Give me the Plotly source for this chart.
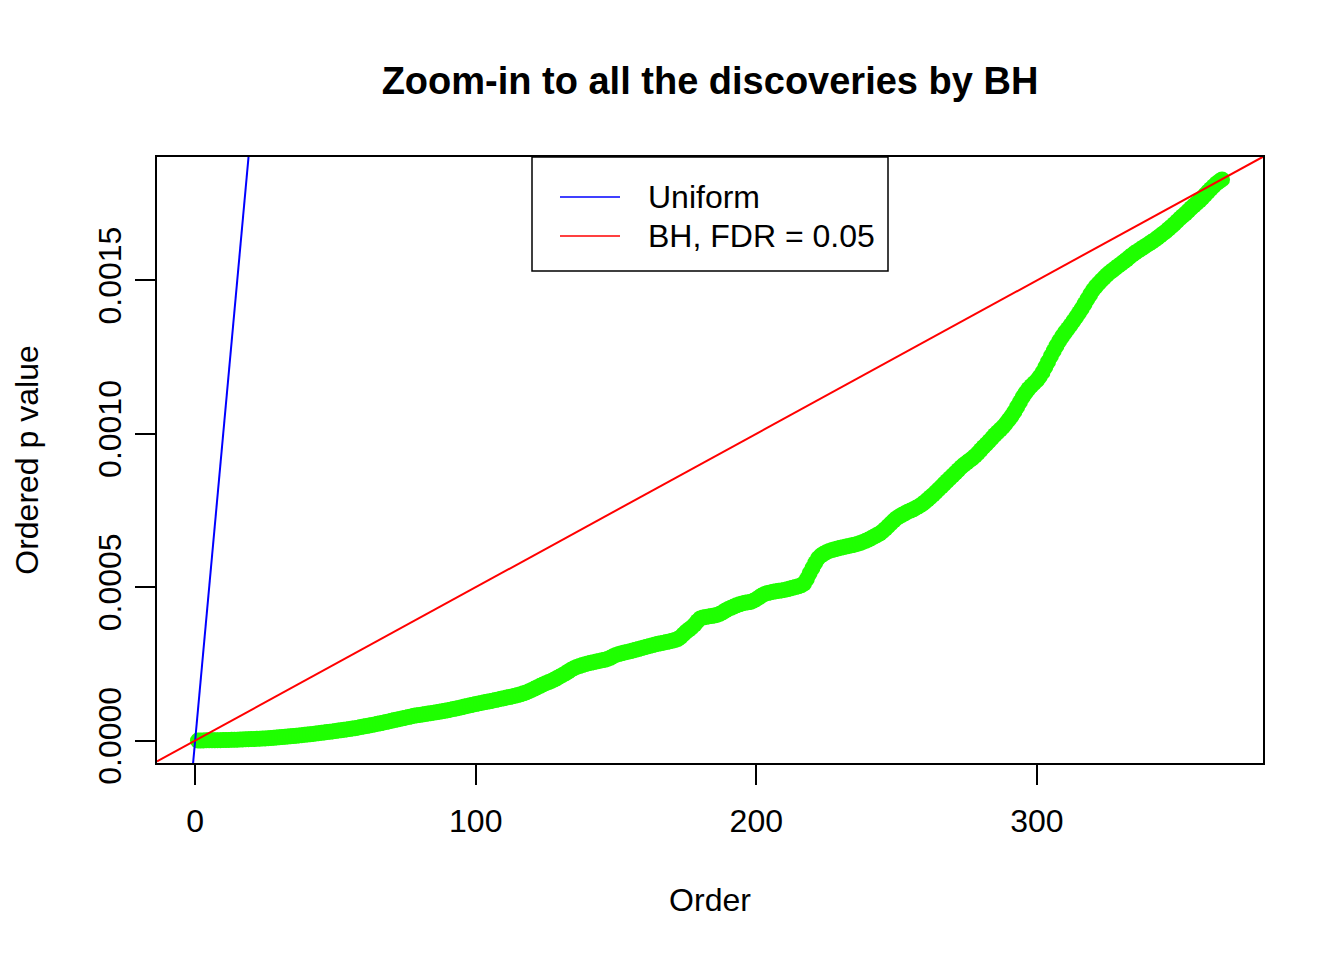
import plotly.graph_objects as go

# ---- data ----
n_tests = 10000          # total number of hypotheses
fdr = 0.05               # BH level
title_text = "Zoom-in to all the discoveries by BH"
x_title = "Order"
y_title = "Ordered p value"
legend_labels = ["Uniform", "BH, FDR = 0.05"]
x_ticks = [0, 100, 200, 300]
y_ticks = [0.0, 0.0005, 0.0010, 0.0015]

# ordered p values of the 366 discoveries, in units of 1e-5
p_sorted_e5 = [
    0.00, 0.02, 0.04, 0.06, 0.08, 0.10, 0.11, 0.12, 0.14, 0.16,
    0.18, 0.21, 0.24, 0.27, 0.30, 0.33, 0.37, 0.40, 0.44, 0.48,
    0.52, 0.56, 0.61, 0.66, 0.71, 0.77, 0.84, 0.92, 0.99, 1.06,
    1.13, 1.20, 1.29, 1.38, 1.47, 1.56, 1.66, 1.76, 1.86, 1.96,
    2.06, 2.17, 2.28, 2.40, 2.52, 2.63, 2.75, 2.87, 2.99, 3.12,
    3.24, 3.37, 3.50, 3.63, 3.77, 3.90, 4.05, 4.21, 4.38, 4.55,
    4.73, 4.91, 5.09, 5.27, 5.45, 5.65, 5.84, 6.05, 6.25, 6.46,
    6.66, 6.86, 7.06, 7.26, 7.46, 7.66, 7.87, 8.08, 8.22, 8.36,
    8.50, 8.64, 8.78, 8.93, 9.08, 9.23, 9.38, 9.54, 9.70, 9.88,
    10.06, 10.25, 10.45, 10.65, 10.86, 11.07, 11.28, 11.49, 11.70, 11.90,
    12.10, 12.28, 12.45, 12.63, 12.81, 13.00, 13.20, 13.40, 13.60, 13.80,
    14.00, 14.20, 14.40, 14.60, 14.85, 15.10, 15.40, 15.70, 16.10, 16.50,
    16.95, 17.40, 17.85, 18.30, 18.70, 19.05, 19.45, 19.90, 20.40, 20.90,
    21.40, 21.90, 22.50, 23.10, 23.60, 24.00, 24.30, 24.60, 24.90, 25.15,
    25.35, 25.55, 25.75, 25.95, 26.15, 26.35, 26.60, 27.00, 27.50, 27.90,
    28.20, 28.45, 28.70, 28.90, 29.10, 29.35, 29.60, 29.85, 30.10, 30.35,
    30.60, 30.85, 31.10, 31.35, 31.55, 31.75, 31.90, 32.10, 32.30, 32.50,
    32.75, 33.10, 33.70, 34.60, 35.50, 36.20, 36.90, 37.80, 38.90, 39.80,
    40.10, 40.30, 40.45, 40.60, 40.75, 40.95, 41.30, 41.80, 42.40, 42.90,
    43.30, 43.70, 44.10, 44.40, 44.70, 44.90, 45.05, 45.20, 45.60, 46.10,
    46.70, 47.30, 47.80, 48.10, 48.30, 48.50, 48.65, 48.80, 48.95, 49.10,
    49.30, 49.55, 49.80, 50.05, 50.30, 50.60, 51.20, 52.60, 54.50, 56.20,
    57.90, 59.40, 60.30, 60.90, 61.40, 61.80, 62.10, 62.35, 62.60, 62.85,
    63.05, 63.25, 63.45, 63.65, 63.85, 64.10, 64.40, 64.75, 65.10, 65.50,
    66.00, 66.50, 67.00, 67.50, 68.20, 69.00, 69.90, 70.80, 71.70, 72.50,
    73.10, 73.60, 74.10, 74.60, 75.00, 75.40, 75.90, 76.40, 77.00, 77.70,
    78.50, 79.30, 80.10, 81.00, 81.90, 82.80, 83.70, 84.60, 85.50, 86.40,
    87.30, 88.20, 89.10, 89.90, 90.60, 91.30, 92.00, 92.80, 93.70, 94.70,
    95.70, 96.60, 97.60, 98.60, 99.60, 100.50, 101.40, 102.30, 103.40, 104.60,
    105.80, 107.20, 108.80, 110.40, 112.00, 113.40, 114.60, 115.60, 116.50, 117.40,
    118.60, 120.00, 121.70, 123.50, 125.30, 127.00, 128.70, 130.30, 131.70, 133.00,
    134.20, 135.40, 136.70, 138.00, 139.40, 140.80, 142.30, 143.90, 145.40, 146.80,
    148.00, 149.00, 150.00, 150.90, 151.80, 152.60, 153.30, 154.00, 154.70, 155.40,
    156.10, 156.80, 157.60, 158.30, 159.00, 159.60, 160.20, 160.80, 161.40, 162.00,
    162.60, 163.20, 163.90, 164.60, 165.30, 166.00, 166.80, 167.60, 168.40, 169.30,
    170.20, 171.00, 171.80, 172.70, 173.60, 174.40, 175.20, 176.00, 176.90, 177.90,
    178.90, 179.80, 180.70, 181.60, 182.30, 182.90,
]

# ---- derived ----
p_sorted = [v * 1e-5 for v in p_sorted_e5]
order = list(range(1, len(p_sorted) + 1))

# R-style axis limits: data range extended by 4% on each side
xmin, xmax = min(order), max(order)
ymin, ymax = 0.0, max(p_sorted)
dx, dy = 0.04 * (xmax - xmin), 0.04 * (ymax - ymin)
xr = [xmin - dx, xmax + dx]
yr = [ymin - dy, ymax + dy]

FONT = "Liberation Sans, Arial, Helvetica, sans-serif"
GREEN = "#1FFF00"
FS = 32

fig = go.Figure()

fig.add_trace(go.Scatter(
    x=order, y=p_sorted, mode="markers",
    marker=dict(color=GREEN, size=16, line=dict(width=0)),
    showlegend=False, hoverinfo="x+y",
))

# abline(0, 1/m) and abline(0, alpha/m)
line_x = xr
fig.add_trace(go.Scatter(
    x=line_x, y=[x / n_tests for x in line_x], mode="lines",
    line=dict(color="#0000FF", width=2), showlegend=False, name=legend_labels[0],
))
fig.add_trace(go.Scatter(
    x=line_x, y=[x * fdr / n_tests for x in line_x], mode="lines",
    line=dict(color="#FF0000", width=2), showlegend=False, name=legend_labels[1],
))

axis_common = dict(
    showline=True, linecolor="black", linewidth=1.5, mirror=True,
    ticks="outside", ticklen=20, tickwidth=1.5, tickcolor="black",
    showgrid=False, zeroline=False,
    tickfont=dict(family=FONT, size=FS, color="black"),
)

fig.update_xaxes(
    range=xr, tickvals=x_ticks, ticktext=[str(v) for v in x_ticks],
    ticklabelstandoff=9,
    title=dict(text=x_title, font=dict(family=FONT, size=FS, color="black"), standoff=50),
    **axis_common,
)
fig.update_yaxes(
    range=yr, tickvals=y_ticks, ticktext=[f"{v:.4f}" for v in y_ticks],
    tickangle=-90, ticklabelstandoff=1,
    title=dict(text=y_title, font=dict(family=FONT, size=FS, color="black"), standoff=44),
    **axis_common,
)

# ---- page geometry (the page has an 8px body margin) ----
OFF = 8
FIG_W, FIG_H = 1344 - 2 * OFF, 960 - 2 * OFF
# plot-area edges in screen pixels
L, T, R, B = 157, 157, 1263, 763
W, H = R - L, B - T
def px(xp):
    return (xp - L) / W
def py(yp):
    return (B - yp) / H

shapes = [
    dict(type="rect", xref="paper", yref="paper",
         x0=px(532), x1=px(888), y0=py(271), y1=py(157),
         line=dict(color="black", width=1.5), fillcolor="white", layer="above"),
]
legend_colors = ["#0000FF", "#FF0000"]
legend_rows = [197, 236]
annotations = []
for lab, col, yrow in zip(legend_labels, legend_colors, legend_rows):
    shapes.append(dict(type="line", xref="paper", yref="paper",
                       x0=px(560), x1=px(620), y0=py(yrow), y1=py(yrow),
                       line=dict(color=col, width=1.5), layer="above"))
    annotations.append(dict(xref="paper", yref="paper", x=px(646), y=py(yrow),
                            text=lab, showarrow=False, xanchor="left", yanchor="middle",
                            font=dict(family=FONT, size=FS, color="black")))

fig.update_layout(
    width=FIG_W, height=FIG_H,
    margin=dict(l=L - OFF, r=FIG_W - (R - OFF), t=T - OFF, b=FIG_H - (B - OFF),
                autoexpand=False),
    paper_bgcolor="white", plot_bgcolor="white",
    title=dict(text=f"<b>{title_text}</b>", x=((L + R) / 2 - OFF) / FIG_W, xanchor="center",
               y=1 - (81 - OFF) / FIG_H, yanchor="middle",
               font=dict(family=FONT, size=38, color="black")),
    shapes=shapes, annotations=annotations,
    showlegend=False,
)

fig.write_html("out.html")
